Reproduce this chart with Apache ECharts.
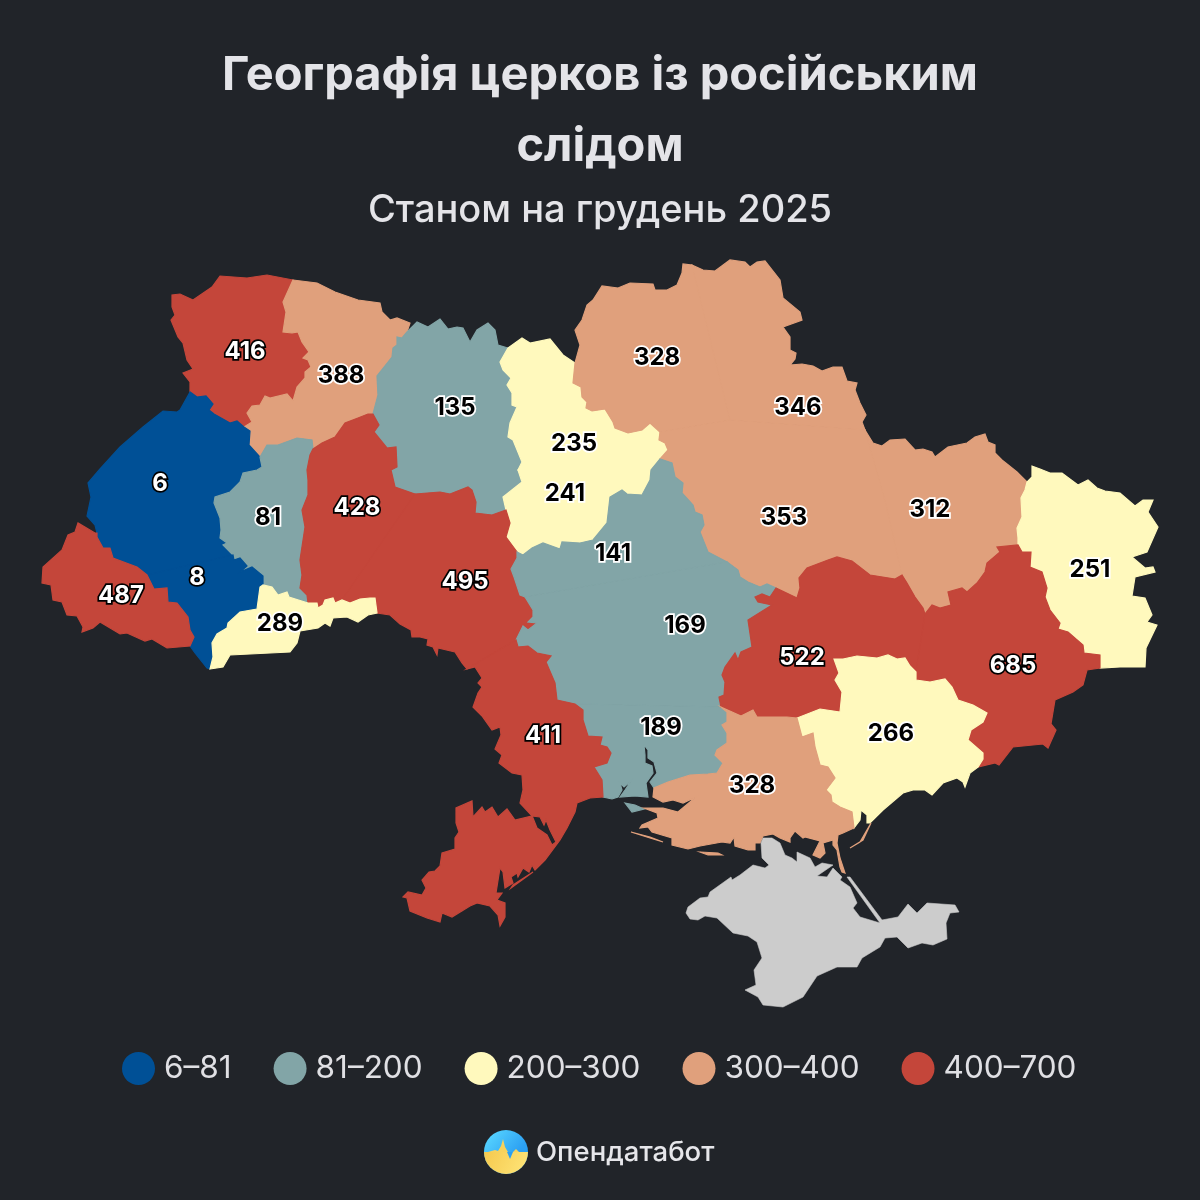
<!DOCTYPE html>
<html>
<head>
<meta charset="utf-8">
<title>Географія церков із російським слідом</title>
<style>
	html, body { margin: 0; padding: 0; background: #212429; }
	#container { width: 1200px; height: 1200px; }
</style>
<script src="https://cdn.jsdelivr.net/npm/echarts@6/dist/echarts.min.js"></script>
</head>
<body>
<div id="container"></div>
<script>
var regions = ['Волинська', 'Рівненська', 'Житомирська', 'Київ', 'Київська', 'Чернігівська', 'Сумська', 'Полтавська', 'Харківська', 'Луганська', 'Львівська', 'Тернопільська', 'Хмельницька', 'Вінницька', 'Івано-Франківська', 'Закарпатська', 'Чернівецька', 'Черкаська', 'Кіровоградська', 'Миколаївська', 'Одеська', 'Дніпропетровська', 'Донецька', 'Запорізька', 'Херсонська'];
var values = [416, 388, 135, 235, 241, 328, 346, 353, 312, 251, 6, 81, 428, 495, 8, 487, 289, 141, 169, 189, 411, 522, 685, 266, 328];
var legendLabels = ['6–81', '81–200', '200–300', '300–400', '400–700'];
var legendFrom = [6, 81, 200, 300, 400];
var legendTo = [81, 200, 300, 400, 700];
var legendColors = ['#005096', '#82a5a7', '#fff9bd', '#e0a07c', '#c4463a'];
var labelOnDark = [true, false, false, false, true];

// region outlines; shared borders are kept once
var arcs = {
	volynOuter: [[293,280],[267,275],[247,278],[220,276],[212,287],[193,300],[180,294],[172,295],[172,307],[175,315],[171,320],[178,337],[183,343],[187,360],[193,369],[183,373],[190,382],[190,392]],
	volynLviv: [[190,392],[197,397],[206,396],[213,404],[209,410],[214,414],[230,423],[237,421],[244,427]],
	volynRivne: [[244,427],[252,422],[247,413],[252,406],[260,405],[265,396],[270,398],[287,394],[293,401],[297,387],[305,378],[305,372],[311,367],[308,360],[303,358],[309,352],[302,342],[298,332],[292,333],[283,332],[286,312],[283,302],[293,280]],
	rivneOuter: [[293,280],[317,283],[335,292],[358,300],[380,303],[382,312],[390,320],[397,318],[410,323],[407,332]],
	rivneZhyt: [[407,332],[402,338],[397,337],[397,345],[393,348],[392,357],[377,376],[378,395],[373,414]],
	rivneKhmel: [[373,414],[368,414],[358,418],[345,423],[335,437],[322,443],[313,449]],
	rivneTern: [[313,449],[312,440],[297,438],[278,445],[267,445],[260,457]],
	rivneLviv: [[260,457],[249,445],[250,431],[244,427]],
	ternLviv: [[260,457],[262,467],[257,470],[243,473],[240,482],[230,492],[215,497],[214,503],[220,518],[221,530],[220,538],[227,543],[223,545],[233,555]],
	ternFrank: [[233,555],[234,560],[240,558],[247,566],[240,572],[252,567],[263,576],[263,585]],
	ternKhmel: [[313,449],[310,455],[307,470],[308,480],[308,495],[302,510],[305,527],[300,560],[302,575],[300,588],[307,595],[308,603]],
	chernTern: [[308,603],[289,597],[287,592],[278,595],[272,587],[263,585]],
	frankChern: [[210,669],[213,657],[212,643],[217,634],[227,628],[228,623],[240,612],[257,609],[260,587],[263,585]],
	lvivOuter: [[190,392],[180,410],[177,412],[163,411],[143,427],[120,447],[100,469],[88,483],[91,497],[87,516],[95,525],[97,533]],
	zakBlue1: [[97,533],[97,537],[103,548],[110,548],[113,558],[137,567],[147,575]],
	zakBlue2: [[147,575],[154,589],[167,588],[168,602],[177,603],[188,617],[190,630],[194,637],[190,646]],
	lvivFrank: [[147,575],[233,555]],
	zakOuter: [[97,533],[95,533],[78,523],[75,532],[68,535],[62,550],[43,567],[42,583],[51,585],[53,600],[62,602],[67,615],[77,616],[83,627],[82,632],[93,628],[100,622],[120,634],[127,633],[145,641],[152,639],[167,648],[190,646]],
	frankOuter: [[190,646],[195,653],[207,668],[210,669]],
	chernBottom: [[210,669],[223,667],[230,655],[290,652],[297,643],[300,631],[318,628],[325,623],[330,626],[333,618],[347,617],[358,622],[368,615],[377,613]],
	chernEnd: [[377,613],[375,598]],
	chernVinn: [[375,598],[370,598],[360,599],[350,603],[342,600]],
	chernKhmel: [[342,600],[335,603],[333,598],[325,600],[323,605],[318,608],[317,603],[308,603]],
	khmelVinn: [[415,494],[342,600]],
	zhytKhmel: [[373,414],[379,425],[374,432],[387,448],[396,447],[397,467],[391,470],[395,487],[415,494]],
	zhytVinn: [[415,494],[440,492],[450,494],[468,487],[472,490],[476,502],[475,513],[492,515],[506,510]],
	coastVinn: [[377,613],[390,615],[400,624],[411,630],[412,637],[420,637],[428,639],[427,645],[433,647],[437,655],[438,648],[455,652],[462,663],[467,669]],
	vinnOdesa: [[516,640],[467,669]],
	kyivVinn: [[506,510],[510,523],[506,537],[517,552]],
	vinnCher: [[517,552],[517,558],[511,569],[514,577],[520,595],[525,597]],
	vinnKir: [[525,597],[533,610],[533,617],[528,622],[537,623],[528,630],[523,626],[516,640]],
	odesaKir: [[516,640],[518,647],[528,646],[537,653],[551,656],[546,662],[555,683],[557,700],[575,704]],
	mykOdesa: [[575,704],[583,710],[583,720],[588,736],[602,737],[600,745],[607,747],[611,753],[607,763],[594,767],[602,780],[603,797]],
	odesaCoast: [[603,797],[590,798],[577,803],[575,812],[567,828],[560,840],[545,860],[535,870],[532,865],[529,872],[523,868],[518,877],[517,873],[511,877],[513,883],[505,888],[503,872],[500,868],[496,893],[502,893],[497,900],[505,903],[505,917],[500,926],[498,915],[490,906],[477,903],[470,906],[452,917],[442,913],[440,922],[427,918],[410,911],[407,898],[403,897],[408,892],[422,895],[426,888],[422,880],[429,872],[435,871],[440,866],[442,853],[455,849],[455,838],[459,832],[456,823],[456,808],[472,801],[473,817],[482,807],[485,812],[492,807],[498,817],[507,809],[515,820],[532,816],[533,818],[537,828],[547,835],[552,845],[556,842],[550,830],[546,820],[544,825],[540,817],[532,816],[520,803],[523,790],[522,775],[512,773],[499,763],[502,755],[495,749],[501,735],[500,727],[492,730],[482,716],[473,707],[478,693],[482,687],[478,683],[482,678],[475,667],[467,669]],
	zhytOuter: [[407,332],[417,322],[428,327],[440,319],[448,329],[457,327],[463,328],[470,342],[477,330],[488,323],[495,330],[498,345],[508,348]],
	zhytKyivN: [[508,348],[500,362],[503,370],[511,378],[507,385],[512,393],[512,405],[517,407],[510,423],[508,437],[513,440],[522,462],[518,470]],
	zhytKyivS: [[518,470],[522,482],[503,497],[506,510]],
	kyivOuter: [[508,348],[522,338],[530,343],[550,339],[563,355],[575,363]],
	kyivChern: [[575,363],[573,383],[581,387],[582,397],[587,402],[586,408],[592,411],[605,409],[613,422],[615,428],[628,433],[642,430],[650,423],[660,432]],
	kyivPolt: [[660,432],[659,440],[665,443],[668,450],[660,459]],
	kyivCherk1: [[660,459],[651,470]],
	kyivSplit: [[651,470],[518,470]],
	kyivCherk2: [[651,470],[650,480],[642,495],[627,494],[622,490],[610,497],[607,523],[593,540],[580,543],[562,542],[560,549],[543,543],[532,548],[523,555],[517,552]],
	cherkPolt: [[660,459],[672,463],[675,477],[683,483],[682,493],[693,505],[695,512],[702,515],[704,525],[700,532],[708,552],[727,562]],
	cherkKir: [[727,562],[525,597]],
	kirPolt: [[727,562],[738,570],[740,577],[748,582],[760,587],[767,584],[776,588]],
	kirDnipro: [[776,588],[770,597],[762,594],[755,597],[758,602],[772,605],[748,620],[752,647],[741,652],[738,660],[735,653],[725,667],[722,675],[725,682],[724,695],[719,697],[721,707]],
	kirMyk: [[721,707],[575,704]],
	mykKherson: [[721,707],[727,712],[727,722],[722,725],[727,733],[727,743],[717,750],[715,755],[723,763],[717,773],[708,774],[690,775],[668,782],[654,788]],
	mykCoast: [[654,788],[650,782],[657,773],[654,762],[648,758],[648,750],[644,745],[645,755],[645,763],[652,766],[653,773],[646,783],[648,797],[635,796],[620,797],[625,790],[631,781],[624,787],[620,783],[622,790],[618,797],[612,799],[603,797]],
	kherSouth: [[654,788],[653,797],[663,802],[673,800],[683,803],[696,797],[678,812],[663,808],[644,808],[657,813],[658,818],[642,825],[640,828],[648,827],[652,832],[672,838],[672,845],[688,849],[700,846],[722,842],[730,843],[734,837],[735,846],[748,850],[755,850],[755,843],[760,843],[763,836],[773,834],[780,838],[790,842],[790,838],[795,831],[803,838],[805,837],[820,841],[813,855],[820,858],[825,853],[823,843],[833,840],[833,845],[837,850],[840,867],[842,872],[845,873],[840,858],[837,843],[838,835],[843,833],[854,828]],
	zapKherson: [[797,718],[802,737],[813,733],[815,747],[820,765],[828,767],[835,778],[826,790],[831,795],[832,802],[840,807],[852,812],[854,828]],
	zapCoast: [[854,828],[860,820],[861,810],[867,815],[867,823],[870,823],[883,810],[903,793],[913,790],[925,790],[932,795],[943,783],[957,778],[963,782],[965,787],[970,773],[978,767]],
	donZapor: [[916,672],[916,680],[930,682],[945,679],[952,687],[958,700],[973,705],[987,713],[983,722],[971,730],[968,740],[983,753],[983,759],[978,767]],
	donCoast: [[978,767],[995,763],[999,765],[1013,747],[1043,744],[1048,748],[1056,730],[1051,724],[1055,700],[1073,692],[1083,685],[1087,670],[1100,668]],
	dniproKherson: [[721,707],[741,716],[753,710],[757,717],[787,717],[797,718]],
	dniproZapor: [[797,718],[820,709],[840,712],[842,692],[835,680],[839,673],[834,659],[843,659],[857,656],[877,658],[888,655],[897,659],[905,658],[910,666],[916,672]],
	dniDon: [[916,672],[925,614]],
	dniKharkiv: [[925,614],[923,608],[915,597],[907,583],[902,575]],
	dniPolt: [[776,588],[797,598],[800,588],[799,578],[807,568],[828,560],[837,557],[852,561],[870,575],[895,579],[902,575]],
	kharkPolt: [[865,430],[885,500],[902,575]],
	sumyPolt: [[730,420],[865,430]],
	chernPolt: [[660,432],[730,420]],
	chernSumy: [[692,265],[730,420]],
	chernihivOuter: [[575,363],[580,345],[575,330],[582,320],[587,305],[593,300],[602,286],[618,288],[630,283],[653,284],[655,290],[667,290],[677,285],[682,273],[683,264],[692,265]],
	sumyOuter: [[692,265],[703,270],[715,271],[730,260],[745,262],[750,267],[757,262],[765,261],[780,280],[783,298],[800,312],[802,320],[783,327],[790,337],[790,350],[796,353],[795,359],[790,365],[802,364],[813,366],[822,371],[833,367],[842,367],[847,381],[857,383],[855,390],[860,403],[866,415],[862,422],[865,430]],
	kharkOuter: [[865,430],[873,443],[882,446],[890,440],[905,439],[915,450],[923,449],[932,452],[935,457],[948,447],[967,443],[975,437],[985,434],[988,442],[995,445],[995,453],[1002,460],[1017,472],[1027,482]],
	kharkDon: [[1018,545],[997,547],[1000,552],[987,563],[985,572],[977,583],[967,592],[962,588],[948,592],[951,605],[940,608],[932,605],[925,614]],
	kharkLuh: [[1027,482],[1025,490],[1021,498],[1022,517],[1017,528],[1018,538],[1018,545]],
	donLuh: [[1018,545],[1022,552],[1031,552],[1030,567],[1042,572],[1047,588],[1045,597],[1050,610],[1060,623],[1058,629],[1068,632],[1083,645],[1084,653],[1100,655],[1100,668]],
	luhOuter: [[1100,668],[1120,667],[1145,667],[1146,648],[1157,625],[1147,622],[1152,615],[1145,598],[1132,596],[1135,577],[1155,572],[1153,567],[1145,568],[1132,557],[1147,552],[1158,527],[1148,512],[1153,500],[1143,500],[1135,506],[1120,493],[1105,491],[1097,488],[1088,480],[1078,485],[1062,473],[1050,473],[1040,469],[1032,466],[1032,477],[1027,482]]
};

// arc names per region, "-" walks the arc backwards
var rings = {
	'Волинська': ['volynOuter', 'volynLviv', 'volynRivne'],
	'Рівненська': ['rivneOuter', 'rivneZhyt', 'rivneKhmel', 'rivneTern', 'rivneLviv', 'volynRivne'],
	'Житомирська': ['zhytOuter', 'zhytKyivN', 'zhytKyivS', '-zhytVinn', '-zhytKhmel', '-rivneZhyt'],
	'Київ': ['kyivOuter', 'kyivChern', 'kyivPolt', 'kyivCherk1', 'kyivSplit', '-zhytKyivN'],
	'Київська': ['-kyivSplit', 'kyivCherk2', '-kyivVinn', '-zhytKyivS'],
	'Чернігівська': ['chernihivOuter', 'chernSumy', '-chernPolt', '-kyivChern'],
	'Сумська': ['sumyOuter', '-sumyPolt', '-chernSumy'],
	'Полтавська': ['sumyPolt', 'kharkPolt', '-dniPolt', '-kirPolt', '-cherkPolt', '-kyivPolt', 'chernPolt'],
	'Харківська': ['kharkOuter', 'kharkLuh', 'kharkDon', 'dniKharkiv', '-kharkPolt'],
	'Луганська': ['donLuh', 'luhOuter', 'kharkLuh'],
	'Львівська': ['lvivOuter', 'zakBlue1', 'lvivFrank', '-ternLviv', 'rivneLviv', '-volynLviv'],
	'Тернопільська': ['-rivneTern', 'ternKhmel', 'chernTern', '-ternFrank', '-ternLviv'],
	'Хмельницька': ['-rivneKhmel', 'zhytKhmel', 'khmelVinn', 'chernKhmel', '-ternKhmel'],
	'Вінницька': ['zhytVinn', 'kyivVinn', 'vinnCher', 'vinnKir', 'vinnOdesa', '-coastVinn', 'chernEnd', 'chernVinn', '-khmelVinn'],
	'Івано-Франківська': ['zakBlue2', 'frankOuter', 'frankChern', '-ternFrank', '-lvivFrank'],
	'Закарпатська': ['zakOuter', '-zakBlue2', '-zakBlue1'],
	'Чернівецька': ['chernBottom', 'chernEnd', 'chernVinn', 'chernKhmel', 'chernTern', '-frankChern'],
	'Черкаська': ['-kyivCherk2', '-kyivCherk1', 'cherkPolt', 'cherkKir', '-vinnCher'],
	'Кіровоградська': ['-cherkKir', 'kirPolt', 'kirDnipro', 'kirMyk', '-odesaKir', '-vinnKir'],
	'Миколаївська': ['-kirMyk', 'mykKherson', 'mykCoast', '-mykOdesa'],
	'Одеська': ['-vinnOdesa', 'odesaKir', 'mykOdesa', 'odesaCoast'],
	'Дніпропетровська': ['dniproKherson', 'dniproZapor', 'dniDon', '-dniKharkiv', '-dniPolt', 'kirDnipro'],
	'Донецька': ['-dniDon', 'donZapor', 'donCoast', '-donLuh', 'kharkDon'],
	'Запорізька': ['-dniproZapor', 'zapKherson', 'zapCoast', '-donZapor'],
	'Херсонська': ['-dniproKherson', 'mykKherson', 'kherSouth', '-zapKherson']
};

// small separate pieces: spits and islands
var extraPieces = {
	'Миколаївська': [[[625,803],[635,805],[644,809],[632,812]]],
	'Одеська': [[[533,872],[511,888],[513,885]]],
	'Херсонська': [
		[[850,848],[860,842],[871,823],[863,840]],
		[[631,832],[650,837],[663,842],[650,838]],
		[[700,852],[718,853],[722,855],[708,855]]
	]
};

var crimea = [[763,838],[761,843],[762,858],[769,865],[765,868],[753,865],[740,875],[732,880],[731,877],[710,892],[708,897],[700,898],[688,907],[686,913],[690,919],[698,920],[705,916],[717,918],[733,933],[748,936],[757,942],[762,958],[754,970],[756,985],[745,990],[758,997],[763,1005],[783,1007],[803,997],[817,976],[837,967],[857,967],[862,958],[880,947],[885,938],[897,937],[908,948],[922,943],[933,945],[947,939],[946,923],[950,913],[959,912],[955,905],[927,903],[917,913],[908,904],[898,917],[882,920],[850,877],[847,877],[880,923],[860,917],[853,908],[857,903],[850,887],[840,880],[842,877],[833,868],[827,877],[817,876],[833,865],[822,863],[815,867],[810,858],[797,852],[797,862],[792,858],[785,855],[780,843],[772,838]];

// where each number sits
var labelPoints = {
	'Волинська': [245,350], 'Рівненська': [341,374], 'Житомирська': [455,406], 'Київ': [574,442], 'Київська': [565,492],
	'Чернігівська': [657,356], 'Сумська': [798,406], 'Полтавська': [784,516], 'Харківська': [930,508], 'Луганська': [1090,568],
	'Львівська': [160,482], 'Тернопільська': [268,516], 'Хмельницька': [357,506], 'Вінницька': [465,580], 'Івано-Франківська': [197,576],
	'Закарпатська': [121,594], 'Чернівецька': [280,622], 'Черкаська': [613,552], 'Кіровоградська': [685,624], 'Миколаївська': [661,726],
	'Одеська': [543,734], 'Дніпропетровська': [802,656], 'Донецька': [1013,664], 'Запорізька': [891,732], 'Херсонська': [752,784]
};

function buildRing(names) {
	var ring = [];
	names.forEach(function(name) {
		var back = name.charAt(0) === '-';
		var arc = arcs[back ? name.slice(1) : name].slice();
		if (back) arc.reverse();
		ring = ring.concat(arc);
	});
	return ring;
}

var features = regions.map(function(name) {
	var polys = [[buildRing(rings[name])]];
	(extraPieces[name] || []).forEach(function(p) { polys.push([p]); });
	return {
		type: 'Feature',
		properties: { name: name, cp: labelPoints[name] },
		geometry: { type: 'MultiPolygon', coordinates: polys }
	};
});
features.push({
	type: 'Feature',
	properties: { name: 'Крим', cp: [800, 930] },
	geometry: { type: 'Polygon', coordinates: [crimea] }
});

echarts.registerMap('ua', { type: 'FeatureCollection', features: features });

// map box = box of the traced points, so picture coordinates stay 1:1
var minX = 9999, minY = 9999, maxX = 0, maxY = 0;
features.forEach(function(f) {
	var polys = f.geometry.type === 'Polygon' ? [f.geometry.coordinates] : f.geometry.coordinates;
	polys.forEach(function(poly) {
		poly[0].forEach(function(p) {
			minX = Math.min(minX, p[0]);
			maxX = Math.max(maxX, p[0]);
			minY = Math.min(minY, p[1]);
			maxY = Math.max(maxY, p[1]);
		});
	});
});

function bandOf(v) {
	for (var i = 0; i < legendFrom.length; i++) {
		if (v >= legendFrom[i] && v < legendTo[i]) return i;
	}
	return legendFrom.length - 1;
}

var chart = echarts.init(document.getElementById('container'), null, { renderer: 'canvas' });

chart.setOption({
	backgroundColor: '#212429',
	animation: false,
	title: {
		text: 'Географія церков із російським\nслідом',
		subtext: 'Станом на грудень 2025',
		left: 'center',
		top: 40,
		padding: 0,
		itemGap: 7,
		textStyle: {
			color: '#e4e4e8',
			fontFamily: 'Inter',
			fontSize: 47,
			fontWeight: 700,
			lineHeight: 71
		},
		subtextStyle: {
			color: '#e4e4e8',
			fontFamily: 'Inter',
			fontSize: 38,
			fontWeight: 500,
			lineHeight: 44
		}
	},
	visualMap: {
		type: 'piecewise',
		seriesIndex: 0,
		orient: 'horizontal',
		left: 122,
		top: 1052,
		itemSymbol: 'circle',
		itemWidth: 33,
		itemHeight: 33,
		itemGap: 42,
		textGap: 9,
		selectedMode: false,
		hoverLink: false,
		padding: 0,
		textStyle: {
			color: '#e0e0e4',
			fontFamily: 'Inter',
			fontSize: 31.5
		},
		pieces: legendLabels.map(function(label, i) {
			return { gte: legendFrom[i], lt: legendTo[i], label: label, color: legendColors[i] };
		})
	},
	series: [{
		type: 'map',
		map: 'ua',
		projection: {
			project: function(p) { return p; },
			unproject: function(p) { return p; }
		},
		left: minX,
		top: minY,
		width: maxX - minX,
		height: maxY - minY,
		roam: false,
		silent: true,
		selectedMode: false,
		emphasis: { disabled: true },
		itemStyle: {
			areaColor: '#cccccc',
			borderColor: '#cccccc',
			borderWidth: 0.6
		},
		label: {
			show: true,
			formatter: function(p) {
				return isNaN(p.value) ? '' : p.value;
			},
			fontFamily: 'Inter',
			fontSize: 24,
			fontWeight: 700,
			offset: [0, 2]
		},
		data: regions.map(function(name, i) {
			var band = bandOf(values[i]);
			return {
				name: name,
				value: values[i],
				itemStyle: { borderColor: legendColors[band], borderWidth: 1.2 },
				label: {
					color: labelOnDark[band] ? '#ffffff' : '#000000',
					textBorderColor: labelOnDark[band] ? '#000000' : '#ffffff',
					textBorderWidth: 3.5
				}
			};
		})
	}],
	graphic: [
		{
			type: 'circle',
			shape: { cx: 506, cy: 1152, r: 22 },
			style: {
				fill: new echarts.graphic.LinearGradient(0.2, 0, 0.8, 0.5, [
					{ offset: 0, color: '#56d3ff' },
					{ offset: 1, color: '#2b9ff2' }
				])
			}
		},
		{
			type: 'sector',
			shape: { cx: 506, cy: 1152, r: 22, r0: 0, startAngle: 0, endAngle: Math.PI },
			style: {
				fill: new echarts.graphic.LinearGradient(0, 0, 1, 1, [
					{ offset: 0, color: '#f5c94e' },
					{ offset: 1, color: '#ffe67a' }
				])
			}
		},
		{
			type: 'polygon',
			shape: { points: [[488,1152],[495,1150],[498,1151],[501,1146],[503,1139],[505,1147],[508,1152]] },
			style: { fill: '#f7d25c' }
		},
		{
			type: 'polygon',
			shape: { points: [[507,1152],[510,1159],[513,1152]] },
			style: { fill: '#2b9ff2' }
		},
		{
			type: 'polygon',
			shape: { points: [[513,1152],[516,1149],[519,1152]] },
			style: { fill: '#f7d25c' }
		},
		{
			type: 'text',
			x: 536,
			y: 1153,
			style: {
				text: 'Опендатабот',
				fill: '#e6e6ea',
				font: '500 27.5px Inter',
				textAlign: 'left',
				textVerticalAlign: 'middle'
			}
		}
	]
});
</script>
</body>
</html>
